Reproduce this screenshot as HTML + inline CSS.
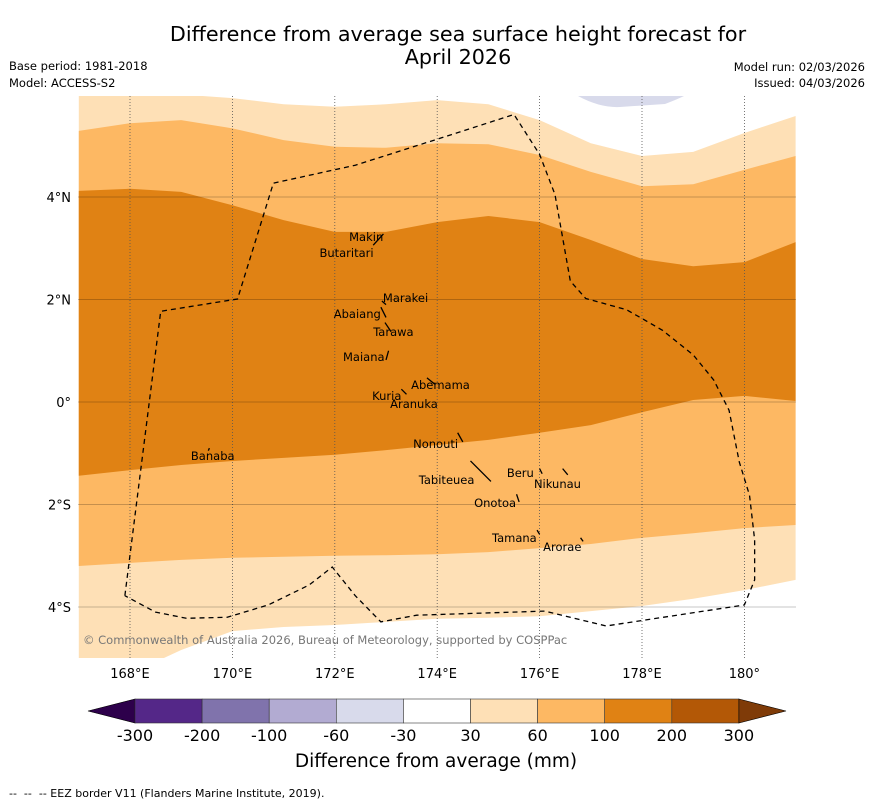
<!DOCTYPE html>
<html><head><meta charset="utf-8"><style>
body{margin:0;background:#fff;font-family:"DejaVu Sans","Liberation Sans",sans-serif;}
svg text{font-family:"DejaVu Sans","Liberation Sans",sans-serif;}
</style></head><body>
<svg id="chart" width="873" height="804" xmlns="http://www.w3.org/2000/svg">
<defs><clipPath id="mapclip"><rect x="78" y="96" width="718" height="562"/></clipPath></defs>
<text x="458" y="41" font-size="20.7" text-anchor="middle">Difference from average sea surface height forecast for</text>
<text x="458" y="64" font-size="20.7" text-anchor="middle">April 2026</text>
<text x="9" y="70" font-size="11.5">Base period: 1981-2018</text>
<text x="9" y="87" font-size="11.5">Model: ACCESS-S2</text>
<text x="865" y="71" font-size="11.5" text-anchor="end">Model run: 02/03/2026</text>
<text x="865" y="87" font-size="11.5" text-anchor="end">Issued: 04/03/2026</text>
<g id="map" clip-path="url(#mapclip)"><rect x="78" y="96" width="718" height="562" fill="#fff"/></g>
<g id="overlay"></g>
<g id="cbar"></g>
<text x="436" y="767" font-size="18.5" text-anchor="middle">Difference from average (mm)</text>
<text x="9" y="797" font-size="11" xml:space="preserve" style="white-space:pre">--  --  -- EEZ border V11 (Flanders Marine Institute, 2019).</text>
</svg>
<script>
const lons=[167,168,169,170,171,172,173,174,175,176,177,178,179,180,181];
const top30=[6.1,6.1,6.0,5.93,5.81,5.76,5.81,5.89,5.81,5.50,5.05,4.80,4.88,5.25,5.58];
const top60=[5.29,5.44,5.50,5.34,5.11,4.98,4.96,5.05,5.03,4.82,4.49,4.21,4.25,4.53,4.80];
const top100=[4.12,4.16,4.10,3.84,3.55,3.32,3.32,3.51,3.63,3.51,3.16,2.79,2.65,2.73,3.12];
const bot100=[-1.44,-1.33,-1.23,-1.15,-1.09,-1.03,-0.94,-0.84,-0.74,-0.60,-0.45,-0.20,0.04,0.12,0.02];
const bot60=[-3.20,-3.14,-3.08,-3.04,-3.02,-3.00,-2.99,-2.97,-2.93,-2.85,-2.77,-2.65,-2.56,-2.46,-2.40];
const bot30=[-5.3,-5.3,-4.84,-4.47,-4.39,-4.35,-4.29,-4.23,-4.21,-4.18,-4.08,-3.98,-3.84,-3.67,-3.47];
const lonTicks=[168,170,172,174,176,178,180];
const lonLabels=["168°E","170°E","172°E","174°E","176°E","178°E","180°"];
const latTicks=[4,2,0,-2,-4];
const latLabels=["4°N","2°N","0°","2°S","4°S"];
const cbBounds=["-300","-200","-100","-60","-30","30","60","100","200","300"];
const cbColors=["#542788","#8073ac","#b2abd2","#d8daeb","#ffffff","#fee0b6","#fdb863","#e08214","#b35806"];
const places=[["Makin",172.28,3.22],["Butaritari",171.70,2.91],["Marakei",172.94,2.03],["Abaiang",171.98,1.72],["Tarawa",172.75,1.37],["Maiana",172.16,0.88],["Abemama",173.49,0.33],["Kuria",172.73,0.12],["Aranuka",173.08,-0.04],["Nonouti",173.53,-0.82],["Banaba",169.19,-1.05],["Beru",175.36,-1.39],["Nikunau",175.89,-1.60],["Tabiteuea",173.64,-1.52],["Onotoa",174.72,-1.97],["Tamana",175.07,-2.65],["Arorae",176.07,-2.83]];
const islands=[[172.95,3.28,172.75,3.06],[172.92,1.97,173.0,1.9],[172.9,1.85,173.0,1.65],[172.98,1.55,173.1,1.37],[173.05,1.0,173.0,0.82],[173.8,0.47,173.95,0.35],[173.3,0.25,173.4,0.15],[174.4,-0.6,174.5,-0.78],[169.55,-0.9,169.53,-0.95],[174.65,-1.15,175.05,-1.55],[176.0,-1.3,176.05,-1.4],[176.45,-1.3,176.55,-1.42],[175.55,-1.8,175.6,-1.95],[175.95,-2.5,176.0,-2.58],[176.8,-2.65,176.85,-2.72]];
const eez=[[167.9,-3.78],[168.6,1.77],[170.1,2.01],[170.8,4.27],[172.4,4.62],[174.1,5.16],[175.5,5.61],[176.0,4.83],[176.3,4.05],[176.6,2.36],[176.9,2.02],[177.7,1.8],[178.4,1.4],[179.0,0.92],[179.4,0.43],[179.7,-0.16],[179.9,-1.17],[180.1,-1.82],[180.2,-2.69],[180.2,-3.47],[180.0,-3.96],[177.3,-4.37],[176.1,-4.08],[173.6,-4.16],[172.9,-4.29],[172.4,-3.78],[171.95,-3.22],[171.5,-3.57],[170.7,-3.96],[169.9,-4.2],[169.1,-4.22],[168.5,-4.1],[167.9,-3.78]];
const X=l=>130+(l-168)*51.2, Y=la=>402-la*51.25;
const NS="http://www.w3.org/2000/svg";
function mk(t,a,p){const e=document.createElementNS(NS,t);for(const k in a)e.setAttribute(k,a[k]);p.appendChild(e);return e;}
function band(up,lo){let d=lons.map((l,i)=>(i?'L':'M')+X(l)+','+Y(up[i])).join('');for(let i=lons.length-1;i>=0;i--)d+='L'+X(lons[i])+','+Y(lo[i]);return d+'Z';}
const map=document.getElementById('map');
let b=mk('path',{d:band(top30,bot30),fill:'#fee0b6'},map);


b=mk('path',{d:band(top60,bot60),fill:'#fdb863'},map);


b=mk('path',{d:band(top100,bot100),fill:'#e08214'},map);


b=mk('path',{d:'M578,96 Q600,108 620,107 L665,104 Q678,99 684,96Z',fill:'#d8daeb'},map);


lonTicks.forEach((l,i)=>{
 const g=mk('line',{x1:X(l),x2:X(l),y1:96,y2:658,stroke:'#555','stroke-width':0.8,'stroke-dasharray':'1,2'},map);
 
 
 const t=mk('text',{x:X(l),y:678,'font-size':13,'text-anchor':'middle'},document.getElementById('overlay'));t.textContent=lonLabels[i];
 
 
});
latTicks.forEach((la,i)=>{
 const g=mk('line',{x1:78,x2:796,y1:Y(la),y2:Y(la),stroke:'rgba(0,0,0,0.22)','stroke-width':1},map);
 
 
 const t=mk('text',{x:71,y:Y(la)+5,'font-size':13,'text-anchor':'end'},document.getElementById('overlay'));t.textContent=latLabels[i];
 
 
});
islands.forEach(s=>{
 const l=mk('line',{x1:X(s[0]),y1:Y(s[1]),x2:X(s[2]),y2:Y(s[3]),stroke:'#000','stroke-width':1.3},map);
 
 
});
const e=mk('path',{d:eez.map((p,i)=>(i?'L':'M')+X(p[0])+','+Y(p[1])).join(''),fill:'none',stroke:'#000','stroke-width':1.3,'stroke-dasharray':'5,4'},map);


places.forEach(p=>{
 const t=mk('text',{x:X(p[1]),y:Y(p[2])+4,'font-size':11.5},map);t.textContent=p[0];
 
 
});
const c=mk('text',{x:83,y:644,'font-size':11.5,fill:'#777'},map);c.textContent='© Commonwealth of Australia 2026, Bureau of Meteorology, supported by COSPPac';


const cb=document.getElementById('cbar');const x0=135,w=67.1,y0=699,h=24;
let p=mk('path',{d:`M${x0},${y0}L88,${y0+h/2}L${x0},${y0+h}Z`,fill:'#2d004b',stroke:'#000','stroke-width':0.6},cb);


cbColors.forEach((col,i)=>{
 const r=mk('rect',{x:x0+i*w,y:y0,width:w,height:h,fill:col,stroke:'#333','stroke-width':0.6},cb);
 
 
});
const xe=x0+cbColors.length*w;
p=mk('path',{d:`M${xe},${y0}L786,${y0+h/2}L${xe},${y0+h}Z`,fill:'#7f3b08',stroke:'#000','stroke-width':0.6},cb);


cbBounds.forEach((s,i)=>{
 const t=mk('text',{x:x0+i*w,y:741,'font-size':16,'text-anchor':'middle'},cb);t.textContent=s;
 
 
});
</script>
</body></html>
